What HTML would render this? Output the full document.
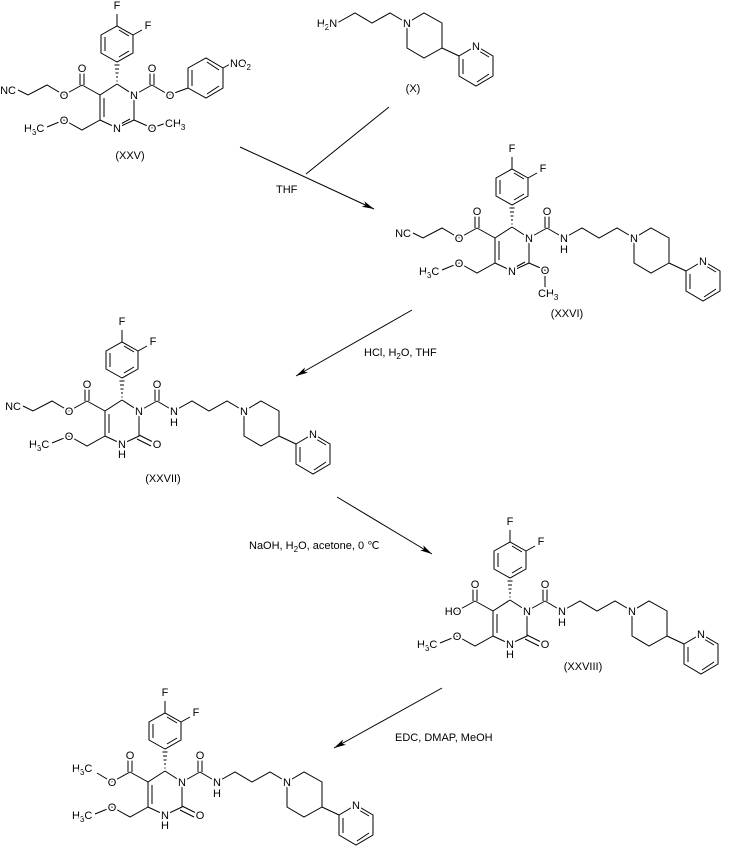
<!DOCTYPE html>
<html><head><meta charset="utf-8"><style>
html,body{margin:0;padding:0;background:#fff;}
svg{display:block;}
text{font-family:"Liberation Sans",sans-serif;font-size:11px;fill:#000;}
.t{text-anchor:middle;paint-order:stroke;stroke:#fff;stroke-width:4px;stroke-linejoin:round;}
.s{text-anchor:start;paint-order:stroke;stroke:#fff;stroke-width:4px;}
.p{text-anchor:start;}
</style></head><body>
<svg width="729" height="850" viewBox="0 0 729 850" xmlns="http://www.w3.org/2000/svg">
<defs>
<marker id="ah" viewBox="0 0 12 6" refX="12" refY="3" markerWidth="12" markerHeight="6" orient="auto" markerUnits="userSpaceOnUse"><path d="M0,0 L12,3 L0,6 L3,3 z" fill="#000"/></marker>
<g id="aryl" stroke="#000" stroke-width="1" fill="none">
<polygon points="0,-22 -16,-31 -16,-49 0,-58 16,-49 16,-31"/>
<line x1="-12" y1="-33" x2="-12" y2="-47"/><line x1="2" y1="-54" x2="12" y2="-48"/><line x1="12" y1="-33" x2="2" y2="-27"/>
<line x1="0" y1="-58" x2="0" y2="-70"/><line x1="16" y1="-49" x2="25" y2="-54"/>
<line x1="-0.6" y1="-3" x2="0.6" y2="-3"/><line x1="-1" y1="-7" x2="1" y2="-7"/><line x1="-1.5" y1="-11" x2="1.5" y2="-11"/><line x1="-2" y1="-15" x2="2" y2="-15"/><line x1="-2.5" y1="-19" x2="2.5" y2="-19"/>
</g>
<g id="ring" stroke="#000" stroke-width="1" fill="none">
<polyline points="0,0 17,11 17,36 0,44 -17,36 -17,11 0,0"/>
<line x1="-13" y1="14" x2="-13" y2="33"/>
<line x1="-17" y1="11" x2="-35" y2="1"/><line x1="-37" y1="1" x2="-37" y2="-12"/><line x1="-33" y1="1" x2="-33" y2="-12"/><line x1="-35" y1="1" x2="-53" y2="11"/>
<polyline points="-17,36 -35,46 -53,36 -70,43"/>
</g>
<g id="cn" stroke="#000" stroke-width="1" fill="none"><polyline points="-53,11 -70,1 -89,11 -99,6"/></g>
<g id="cn2" stroke="#000" stroke-width="1" fill="none"><line x1="13" y1="35" x2="2" y2="41"/></g>
<g id="tail" stroke="#000" stroke-width="1" fill="none">
<polyline points="52,11 70,1 87,11 105,1 122,11"/>
<polygon points="122,11 139,1 157,11 157,36 139,46 122,36"/>
<line x1="157" y1="36" x2="174" y2="44"/>
<polygon points="174,44 191,34 208,44 208,64 191,74 174,64"/>
<line x1="178" y1="47" x2="178" y2="62"/><line x1="194" y1="39" x2="204" y2="45"/><line x1="204" y1="62" x2="192" y2="70"/>
</g>
<g id="amide" stroke="#000" stroke-width="1" fill="none">
<line x1="17" y1="11" x2="35" y2="1"/><line x1="33" y1="1" x2="33" y2="-12"/><line x1="37" y1="1" x2="37" y2="-12"/><line x1="35" y1="1" x2="52" y2="11"/>
</g>
<g id="urea" stroke="#000" stroke-width="1" fill="none"><line x1="17" y1="35" x2="31" y2="42"/><line x1="15" y1="39" x2="29" y2="46"/></g>
</defs>

<!-- XXV -->
<g transform="translate(117,84)">
<use href="#aryl"/><use href="#ring"/><use href="#cn"/><use href="#cn2"/><use href="#amide"/>
<g stroke="#000" stroke-width="1" fill="none">
<line x1="52" y1="11" x2="71" y2="4"/>
<polygon points="71,4 71,-16 89,-26 106,-16 106,4 89,14"/>
<line x1="75" y1="2" x2="75" y2="-14"/><line x1="90" y1="-22" x2="102" y2="-14"/><line x1="102" y1="2" x2="90" y2="10"/>
<line x1="106" y1="-16" x2="115" y2="-21"/>
<polyline points="17,36 35,44 52,38"/>
</g>
<text class="t" x="0" y="-75">F</text><text class="t" x="31" y="-55">F</text>
<text class="t" x="17" y="15">N</text><text class="t" x="0" y="48">N</text>
<text class="t" x="-35" y="-12">O</text><text class="t" x="-53" y="15">O</text>
<text class="t" x="-109" y="10">NC</text><text class="t" x="-53" y="40">O</text>
<text class="s" x="-93" y="48">H<tspan font-size="8" dy="3">3</tspan><tspan dy="-3">C</tspan></text>
<text class="t" x="35" y="-12">O</text><text class="t" x="53" y="15">O</text><text class="t" x="35" y="48">O</text>
<text class="s" x="48" y="43">CH<tspan font-size="8" dy="3">3</tspan></text>
<text class="s" x="113" y="-17">NO<tspan font-size="8" dy="3">2</tspan></text>
</g>
<text class="t" x="130" y="159">(XXV)</text>

<!-- X -->
<g transform="translate(285,12)">
<use href="#tail"/>
<text class="t" x="42" y="15">H<tspan font-size="8" dy="3">2</tspan><tspan dy="-3">N</tspan></text>
<text class="t" x="122" y="15">N</text><text class="t" x="191" y="38">N</text>
</g>
<text class="t" x="413" y="92">(X)</text>

<!-- XXVI -->
<g transform="translate(512,227)">
<use href="#aryl"/><use href="#ring"/><use href="#cn"/><use href="#cn2"/><use href="#amide"/><use href="#tail"/>
<polyline points="17,36 33,43 33,60" stroke="#000" fill="none"/>
<text class="t" x="0" y="-75">F</text><text class="t" x="31" y="-55">F</text>
<text class="t" x="17" y="15">N</text><text class="t" x="0" y="48">N</text>
<text class="t" x="-35" y="-12">O</text><text class="t" x="-53" y="15">O</text>
<text class="t" x="-109" y="10">NC</text><text class="t" x="-53" y="40">O</text>
<text class="s" x="-93" y="48">H<tspan font-size="8" dy="3">3</tspan><tspan dy="-3">C</tspan></text>
<text class="t" x="35" y="-12">O</text><text class="t" x="52" y="15">N</text><text class="t" x="52" y="26">H</text>
<text class="t" x="122" y="15">N</text><text class="t" x="191" y="38">N</text>
<text class="t" x="33" y="47">O</text>
<text class="s" x="26" y="70">CH<tspan font-size="8" dy="3">3</tspan></text>
</g>
<text class="t" x="567" y="317">(XXVI)</text>

<!-- XXVII -->
<g transform="translate(122,400)">
<use href="#aryl"/><use href="#ring"/><use href="#cn"/><use href="#amide"/><use href="#tail"/><use href="#urea"/>
<text class="t" x="0" y="-75">F</text><text class="t" x="31" y="-55">F</text>
<text class="t" x="17" y="15">N</text><text class="t" x="0" y="48">N</text><text class="t" x="0" y="58">H</text>
<text class="t" x="35" y="48">O</text>
<text class="t" x="-35" y="-12">O</text><text class="t" x="-53" y="15">O</text>
<text class="t" x="-109" y="10">NC</text><text class="t" x="-53" y="40">O</text>
<text class="s" x="-93" y="48">H<tspan font-size="8" dy="3">3</tspan><tspan dy="-3">C</tspan></text>
<text class="t" x="35" y="-12">O</text><text class="t" x="52" y="15">N</text><text class="t" x="52" y="26">H</text>
<text class="t" x="122" y="15">N</text><text class="t" x="191" y="38">N</text>
</g>
<text class="t" x="163" y="482">(XXVII)</text>

<!-- XXVIII -->
<g transform="translate(510,600)">
<use href="#aryl"/><use href="#ring"/><use href="#amide"/><use href="#tail"/><use href="#urea"/>
<text class="t" x="0" y="-75">F</text><text class="t" x="31" y="-55">F</text>
<text class="t" x="17" y="15">N</text><text class="t" x="0" y="48">N</text><text class="t" x="0" y="58">H</text>
<text class="t" x="35" y="48">O</text>
<text class="t" x="-35" y="-12">O</text><text class="t" x="-57" y="15">HO</text>
<text class="t" x="-53" y="40">O</text>
<text class="s" x="-93" y="48">H<tspan font-size="8" dy="3">3</tspan><tspan dy="-3">C</tspan></text>
<text class="t" x="35" y="-12">O</text><text class="t" x="52" y="15">N</text><text class="t" x="52" y="26">H</text>
<text class="t" x="122" y="15">N</text><text class="t" x="191" y="38">N</text>
</g>
<text class="t" x="583" y="670">(XXVIII)</text>

<!-- Final -->
<g transform="translate(165,771)">
<use href="#aryl"/><use href="#ring"/><use href="#amide"/><use href="#tail"/><use href="#urea"/>
<line x1="-53" y1="11" x2="-68" y2="2" stroke="#000"/>
<text class="t" x="0" y="-75">F</text><text class="t" x="31" y="-55">F</text>
<text class="t" x="17" y="15">N</text><text class="t" x="0" y="48">N</text><text class="t" x="0" y="58">H</text>
<text class="t" x="35" y="48">O</text>
<text class="t" x="-35" y="-12">O</text><text class="t" x="-53" y="15">O</text>
<text class="s" x="-93" y="1">H<tspan font-size="8" dy="3">3</tspan><tspan dy="-3">C</tspan></text>
<text class="t" x="-53" y="40">O</text>
<text class="s" x="-93" y="48">H<tspan font-size="8" dy="3">3</tspan><tspan dy="-3">C</tspan></text>
<text class="t" x="35" y="-12">O</text><text class="t" x="52" y="15">N</text><text class="t" x="52" y="26">H</text>
<text class="t" x="122" y="15">N</text><text class="t" x="191" y="38">N</text>
</g>

<!-- arrows -->
<g stroke="#000" stroke-width="1" fill="none">
<line x1="240" y1="147" x2="374" y2="209" marker-end="url(#ah)"/>
<line x1="306" y1="174" x2="389" y2="107"/>
<line x1="412" y1="310" x2="296" y2="376" marker-end="url(#ah)"/>
<line x1="337" y1="497" x2="432" y2="554" marker-end="url(#ah)"/>
<line x1="442" y1="688" x2="334" y2="748" marker-end="url(#ah)"/>
</g>
<text class="p" x="276" y="193">THF</text>
<text class="p" x="364" y="356">HCl, H<tspan font-size="8" dy="3">2</tspan><tspan dy="-3">O, THF</tspan></text>
<text class="p" x="249" y="549">NaOH, H<tspan font-size="8" dy="3">2</tspan><tspan dy="-3">O, acetone, 0 ℃</tspan></text>
<text class="p" x="395" y="741">EDC, DMAP, MeOH</text>
</svg>
</body></html>
